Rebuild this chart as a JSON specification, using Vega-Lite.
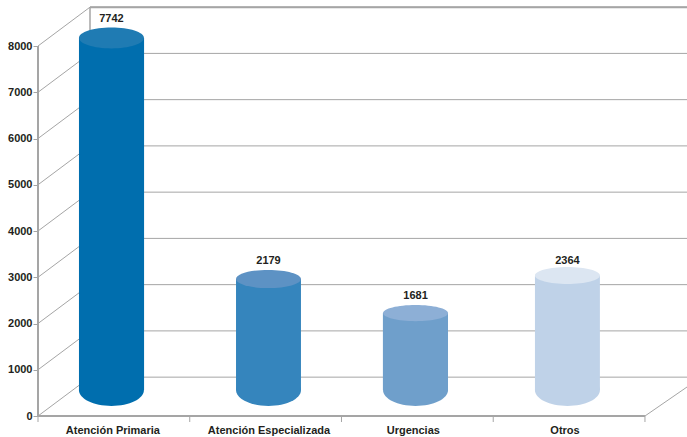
{
"$schema":"https://vega.github.io/schema/vega-lite/v6.json",
"width":649,"height":410,
"autosize":{"type":"none"},
"padding":{"left":38,"top":6,"right":0,"bottom":21},
"background":"white",
"view":{"stroke":null},
"config":{"font":"Liberation Sans"},
"datasets":{
"bars":[
{"category":"Atención Primaria","value":7742,"left":0.27,"right":0.699,"center":0.484,"top":8173,"base":562,"labelLevel":8585},
{"category":"Atención Especializada","value":2179,"left":1.305,"right":1.733,"center":1.519,"top":2962,"base":562,"labelLevel":3353},
{"category":"Urgencias","value":1681,"left":2.273,"right":2.702,"center":2.488,"top":2227,"base":562,"labelLevel":2596},
{"category":"Otros","value":2364,"left":3.275,"right":3.703,"center":3.489,"top":3038,"base":562,"labelLevel":3353}
],
"grid":[
{"level":0,"back":840},{"level":1000,"back":1840},{"level":2000,"back":2840},{"level":3000,"back":3840},{"level":4000,"back":4840},{"level":5000,"back":5840},{"level":6000,"back":6840},{"level":7000,"back":7840},{"level":8000,"back":8840}
],
"ticks":[{"pos":0,"low":0,"end":-130},{"pos":1,"low":0,"end":-130},{"pos":2,"low":0,"end":-130},{"pos":3,"low":0,"end":-130},{"pos":4,"low":0,"end":-130}]
},
"layer":[
{"data":{"name":"grid"},"mark":{"type":"rule","color":"#a5a5a5","strokeWidth":1},
 "encoding":{"x":{"datum":0.3427,"type":"quantitative","scale":{"domain":[0,4.277],"nice":false,"zero":false},
   "axis":{"values":[0.49,1.519,2.47,3.47],"title":null,"domain":false,"ticks":false,"grid":false,"labelPadding":8,"labelFontSize":11,"labelFontWeight":"bold","labelColor":"#231f20","labelFont":"Liberation Sans",
   "labelExpr":"datum.value==0.49?'Atención Primaria':datum.value==1.519?'Atención Especializada':datum.value==2.47?'Urgencias':'Otros'"}},
  "x2":{"datum":4.277},
  "y":{"field":"back","type":"quantitative","scale":{"domain":[0,8865],"nice":false,"zero":false},
   "axis":{"values":[0,1000,2000,3000,4000,5000,6000,7000,8000],"format":"d","title":null,"domain":false,"grid":false,"tickSize":5,"tickColor":"#a5a5a5","tickWidth":1,"labelPadding":1,"labelFontSize":11,"labelFontWeight":"bold","labelColor":"#231f20","labelFont":"Liberation Sans"}},
  "y2":{"field":"back"}}},
{"data":{"name":"grid"},"mark":{"type":"rule","color":"#a5a5a5","strokeWidth":1},
 "encoding":{"x":{"datum":0,"type":"quantitative"},"x2":{"datum":0.3427},"y":{"field":"level","type":"quantitative"},"y2":{"field":"back"}}},
{"data":{"values":[{"from":4,"to":4.277,"low":0,"high":627}]},"mark":{"type":"rule","color":"#a5a5a5","strokeWidth":1},
 "encoding":{"x":{"field":"from","type":"quantitative"},"x2":{"field":"to"},"y":{"field":"low","type":"quantitative"},"y2":{"field":"high"}}},
{"data":{"values":[{"a":840,"b":8840}]},"mark":{"type":"rule","color":"#a5a5a5","strokeWidth":1.5},
 "encoding":{"x":{"datum":0.3427,"type":"quantitative"},"y":{"field":"a","type":"quantitative"},"y2":{"field":"b"}}},
{"data":{"values":[{"a":8840}]},"mark":{"type":"rule","color":"#a5a5a5","strokeWidth":2},
 "encoding":{"x":{"datum":0.3427,"type":"quantitative"},"x2":{"datum":4.277},"y":{"field":"a","type":"quantitative"}}},
{"data":{"values":[{"a":0,"b":8000}]},"mark":{"type":"rule","color":"#a5a5a5","strokeWidth":2},
 "encoding":{"x":{"datum":0,"type":"quantitative"},"y":{"field":"a","type":"quantitative"},"y2":{"field":"b"}}},
{"data":{"values":[{"a":0}]},"mark":{"type":"rule","color":"#a5a5a5","strokeWidth":2},
 "encoding":{"x":{"datum":0,"type":"quantitative"},"x2":{"datum":4},"y":{"field":"a","type":"quantitative"}}},
{"data":{"name":"ticks"},"mark":{"type":"rule","color":"#a5a5a5","strokeWidth":1},
 "encoding":{"x":{"field":"pos","type":"quantitative"},"y":{"field":"low","type":"quantitative"},"y2":{"field":"end"}}},
{"data":{"name":"bars"},"mark":{"type":"point","filled":true,"opacity":1,"strokeWidth":0,"shape":"M-1,0A1,0.49,0,1,1,1,0A1,0.49,0,1,1,-1,0Z","size":4225},
 "encoding":{"x":{"field":"center","type":"quantitative"},"y":{"field":"base","type":"quantitative"},
  "color":{"field":"category","type":"nominal","legend":null,"scale":{"domain":["Atención Primaria","Atención Especializada","Urgencias","Otros"],"range":["#006eae","#3585bd","#6f9fcb","#bfd2e8"]}}}},
{"data":{"name":"bars"},"mark":{"type":"rect"},
 "encoding":{"x":{"field":"left","type":"quantitative"},"x2":{"field":"right"},"y":{"field":"base","type":"quantitative"},"y2":{"field":"top"},
  "color":{"field":"category","type":"nominal","legend":null,"scale":{"domain":["Atención Primaria","Atención Especializada","Urgencias","Otros"],"range":["#006eae","#3585bd","#6f9fcb","#bfd2e8"]}}}},
{"data":{"name":"bars"},"mark":{"type":"point","filled":true,"opacity":1,"strokeWidth":0,"size":4225},
 "encoding":{"x":{"field":"center","type":"quantitative"},"y":{"field":"top","type":"quantitative"},
  "shape":{"field":"category","type":"nominal","legend":null,"scale":{"domain":["Atención Primaria","Atención Especializada","Urgencias","Otros"],"range":["M-1,0A1,0.32,0,1,1,1,0A1,0.32,0,1,1,-1,0Z","M-1,0A1,0.28,0,1,1,1,0A1,0.28,0,1,1,-1,0Z","M-1,0A1,0.25,0,1,1,1,0A1,0.25,0,1,1,-1,0Z","M-1,0A1,0.26,0,1,1,1,0A1,0.26,0,1,1,-1,0Z"]}},
  "fill":{"field":"category","type":"nominal","legend":null,"scale":{"domain":["Atención Primaria","Atención Especializada","Urgencias","Otros"],"range":["#1f7bb3","#5d92c4","#8dafd6","#dce6f2"]}}}},
{"data":{"name":"bars"},"mark":{"type":"text","fontWeight":"bold","fontSize":11,"color":"#231f20","font":"Liberation Sans"},
 "encoding":{"x":{"field":"center","type":"quantitative"},"y":{"field":"labelLevel","type":"quantitative"},"text":{"field":"value","type":"quantitative","format":"d"}}}
]
}
